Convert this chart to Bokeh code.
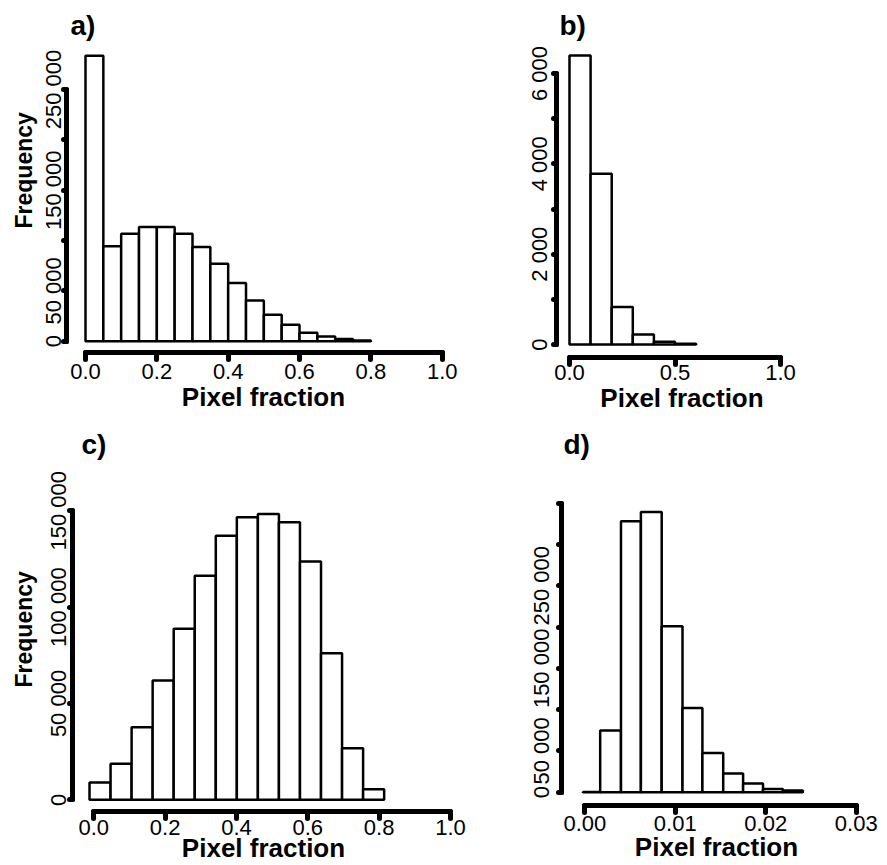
from bokeh.plotting import figure
from bokeh.models import Range1d, FixedTicker, Title, ColumnDataSource
from bokeh.layouts import row, column
from bokeh.embed import file_html
from bokeh.resources import INLINE

# ---------------- data ----------------
a_edges = [0.00, 0.05, 0.10, 0.15, 0.20, 0.25, 0.30, 0.35, 0.40, 0.45, 0.50,
           0.55, 0.60, 0.65, 0.70, 0.75, 0.80]
a_counts = [283500, 94200, 106800, 113400, 113400, 106800, 93500, 76900,
            57700, 40500, 26200, 16300, 8300, 4600, 2300, 700]

b_edges = [0.0, 0.1, 0.2, 0.3, 0.4, 0.5, 0.6]
b_counts = [6400, 3780, 830, 220, 60, 15]

c_edges = [-0.012, 0.047, 0.106, 0.165, 0.224, 0.283, 0.342, 0.401, 0.460,
           0.519, 0.578, 0.637, 0.696, 0.755, 0.814]
c_counts = [9000, 18700, 37700, 61900, 88800, 116300, 137000, 146700, 148400,
            144100, 123700, 76100, 26800, 5500]

d_edges = [-0.0002, 0.0017, 0.0040, 0.0062, 0.0085, 0.0108, 0.0130, 0.0153,
           0.0175, 0.0197, 0.0219, 0.0241]
d_counts = [200, 74700, 328100, 339400, 201000, 102100, 47600, 22600, 10500,
            4000, 2000]

x_ticks_ac = [0.0, 0.2, 0.4, 0.6, 0.8, 1.0]
x_labels_ac = ["0.0", "0.2", "0.4", "0.6", "0.8", "1.0"]
x_ticks_b = [0.0, 0.5, 1.0]
x_labels_b = ["0.0", "0.5", "1.0"]
x_ticks_d = [0.0, 0.01, 0.02, 0.03]
x_labels_d = ["0.00", "0.01", "0.02", "0.03"]

y_ticks_a = [0, 50000, 100000, 150000, 200000, 250000]
y_labels_a = ["0", "50 000", "", "150 000", "", "250 000"]
y_ticks_b = [0, 1000, 2000, 3000, 4000, 5000, 6000]
y_labels_b = ["0", "", "2 000", "", "4 000", "", "6 000"]
y_ticks_c = [0, 50000, 100000, 150000]
y_labels_c = ["0", "50 000", "100 000", "150 000"]
y_ticks_d = [0, 50000, 100000, 150000, 200000, 250000, 300000, 350000]
y_labels_d = ["0", "50 000", "", "150 000", "", "250 000", "", ""]

panel_letters = ["a)", "b)", "c)", "d)"]
x_title = "Pixel fraction"
y_title = "Frequency"

# ---------------- styling / layout ----------------
FONT = "Liberation Sans"


def make_panel(edges, counts, xt, xl, yt, yl, g, letter, with_ylab):
    p = figure(frame_width=g["fw"], frame_height=g["fh"],
               min_border_left=g["bl"], min_border_right=g["br"],
               min_border_top=g["bt"], min_border_bottom=g["bb"],
               x_range=Range1d(*g["xr"]), y_range=Range1d(*g["yr"]),
               output_backend="svg", toolbar_location=None, title=None)
    p.outline_line_color = None
    p.xgrid.visible = False
    p.ygrid.visible = False
    p.background_fill_color = "white"
    p.border_fill_color = "white"

    src = ColumnDataSource(dict(left=edges[:-1], right=edges[1:], top=counts,
                                bottom=[0] * len(counts)))
    p.quad(left="left", right="right", top="top", bottom="bottom", source=src,
           fill_color="white", line_color="black", line_width=2.5)

    for ax, ticks, labels in ((p.xaxis[0], xt, xl), (p.yaxis[0], yt, yl)):
        ax.ticker = FixedTicker(ticks=ticks)
        ax.major_label_overrides = {t: s for t, s in zip(ticks, labels)}
        ax.bounds = (ticks[0], ticks[-1])
        ax.axis_line_width = 5
        ax.axis_line_color = "black"
        ax.axis_line_cap = "round"
        ax.major_tick_line_width = 5
        ax.major_tick_line_color = "black"
        ax.major_tick_line_cap = "round"
        ax.major_tick_in = 0
        ax.minor_tick_line_color = None
        ax.major_label_text_font = FONT
        ax.major_label_text_font_size = "22px"
        ax.major_label_text_color = "black"

    xa = p.xaxis[0]
    xa.major_tick_out = 7
    xa.major_label_standoff = g["xs"]
    xa.axis_label = x_title
    xa.axis_label_text_font = FONT
    xa.axis_label_text_font_size = "26px"
    xa.axis_label_text_font_style = "bold"
    xa.axis_label_text_color = "black"
    xa.axis_label_standoff = g["xls"]

    ya = p.yaxis[0]
    ya.major_tick_out = 3
    ya.major_label_orientation = "parallel"
    ya.major_label_standoff = g["ys"]

    p.add_layout(Title(text=letter, align="left", offset=g["toff"], standoff=4,
                       text_font=FONT, text_font_size="28px",
                       text_font_style="bold", text_color="black"), "above")
    if with_ylab:
        p.add_layout(Title(text=y_title, align="left", offset=124,
                           standoff=g["yls"], text_font=FONT,
                           text_font_size="23px", text_font_style="bold",
                           text_color="black"), "left")
    return p


# geometry (pixels): frame size, borders, ranges, standoffs
ga = dict(fw=394, fh=310, bl=66, br=40, bt=42, bb=64,
          xr=(-0.05327, 1.05131), yr=(-11224, 296682),
          xs=4, xls=0, ys=-3, toff=4, yls=4)
gb = dict(fw=251, fh=315, bl=56, br=73, bt=42, bb=59,
          xr=(-0.06161, 1.12796), yr=(-287.8, 6686.4),
          xs=0, xls=0, ys=1, toff=3, yls=0)
gc = dict(fw=382, fh=350, bl=72, br=46, bt=44, bb=54,
          xr=(-0.05971, 1.01121), yr=(-6073, 175588),
          xs=1, xls=-5, ys=-2, toff=9, yls=13)
gd = dict(fw=310, fh=344, bl=61, br=14, bt=45, bb=59,
          xr=(-0.0025755, 0.0316903), yr=(-16107, 400502),
          xs=3, xls=-2, ys=4, toff=2, yls=0)

pa = make_panel(a_edges, a_counts, x_ticks_ac, x_labels_ac, y_ticks_a,
                y_labels_a, ga, panel_letters[0], True)
pb = make_panel(b_edges, b_counts, x_ticks_b, x_labels_b, y_ticks_b,
                y_labels_b, gb, panel_letters[1], False)
pc = make_panel(c_edges, c_counts, x_ticks_ac, x_labels_ac, y_ticks_c,
                y_labels_c, gc, panel_letters[2], True)
pd = make_panel(d_edges, d_counts, x_ticks_d, x_labels_d, y_ticks_d,
                y_labels_d, gd, panel_letters[3], False)

layout = column(row(pa, pb), row(pc, pd))

open("out.html", "w").write(file_html(layout, INLINE))
